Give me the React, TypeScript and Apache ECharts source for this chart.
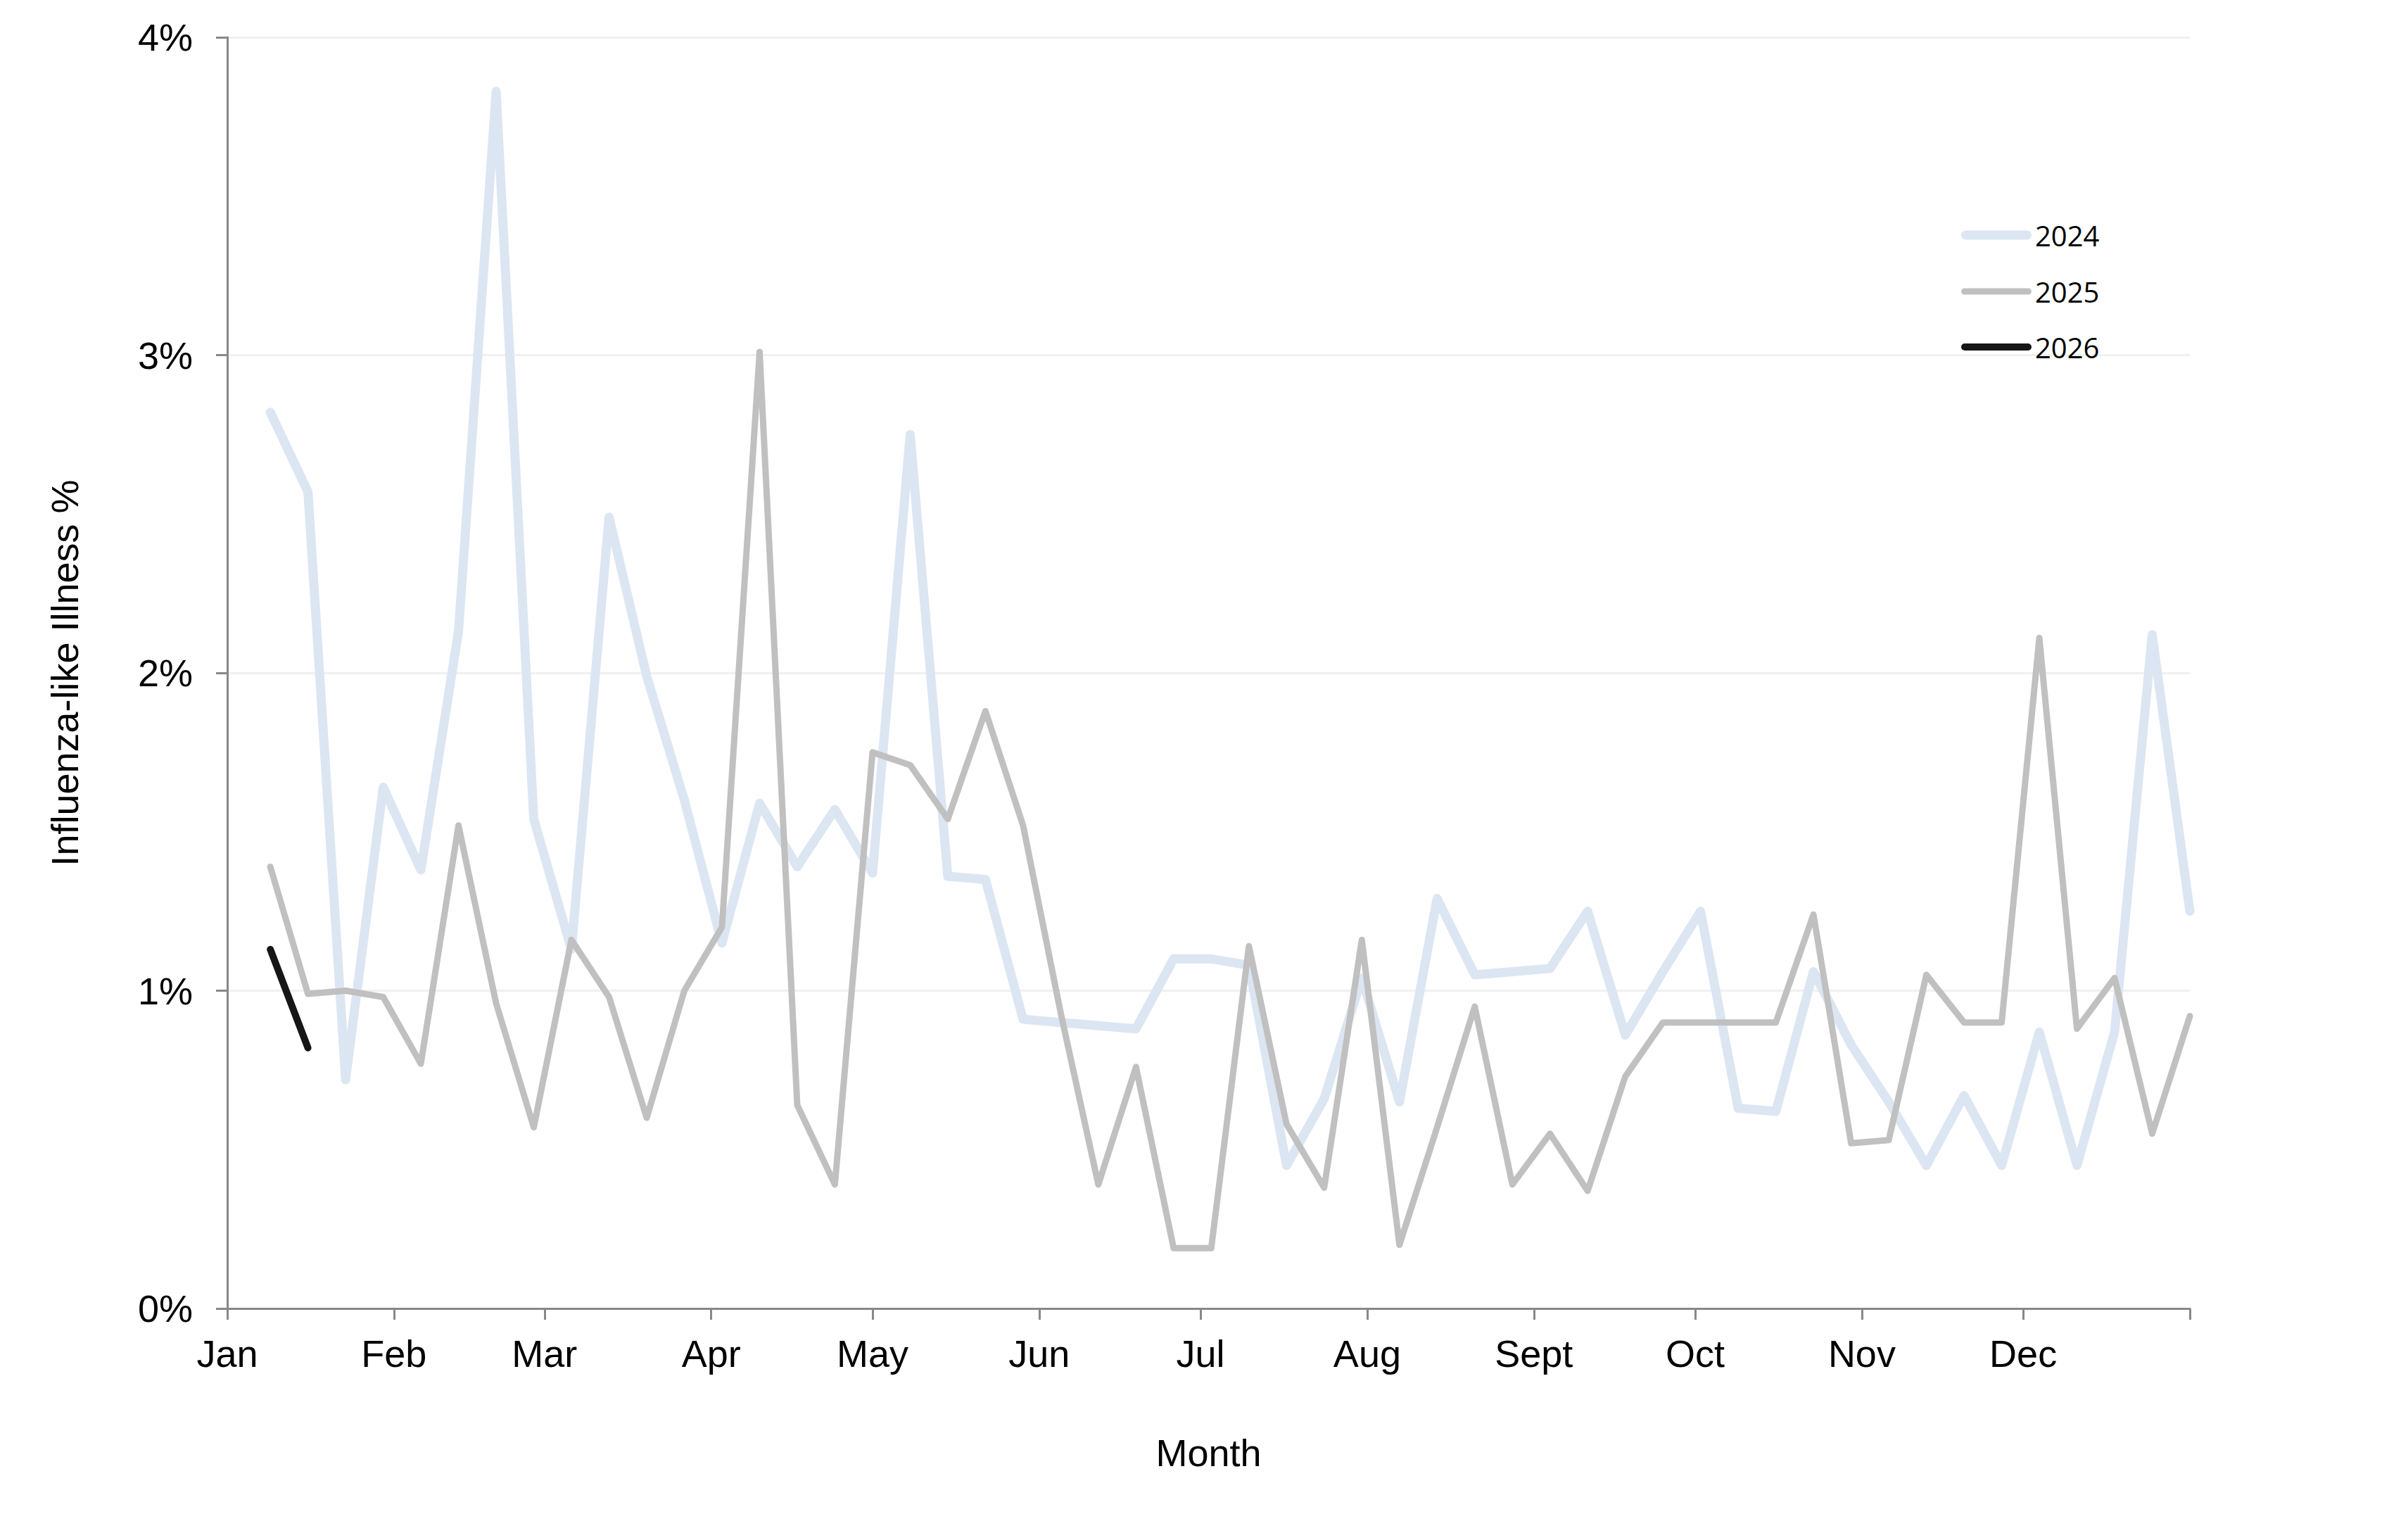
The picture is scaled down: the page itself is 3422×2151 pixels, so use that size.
import React, { useEffect, useRef } from "react";
import * as echarts from "echarts";

// Day of year (Jan 1 = 0) for each weekly point
const weekDays = [
  8, 15, 22, 29, 36, 43, 50, 57, 64, 71, 78, 85, 92, 99, 106, 113, 120, 127, 134, 141,
  148, 155, 162, 169, 176, 183, 190, 197, 204, 211, 218, 225, 232, 239, 246, 253, 260,
  267, 274, 281, 288, 295, 302, 309, 316, 323, 330, 337, 344, 351, 358, 365,
];

const values2024 = [
  2.82, 2.57, 0.72, 1.64, 1.38, 2.13, 3.83, 1.54, 1.13, 2.49, 1.99, 1.6, 1.15, 1.59, 1.39,
  1.57, 1.37, 2.75, 1.36, 1.35, 0.91, 0.9, 0.89, 0.88, 1.1, 1.1, 1.08, 0.45, 0.66, 1.04,
  0.65, 1.29, 1.05, 1.06, 1.07, 1.25, 0.86, 1.06, 1.25, 0.63, 0.62, 1.06, 0.83, 0.65, 0.45,
  0.67, 0.45, 0.87, 0.45, 0.87, 2.12, 1.25,
];

const values2025 = [
  1.39, 0.99, 1.0, 0.98, 0.77, 1.52, 0.96, 0.57, 1.16, 0.98, 0.6, 1.0, 1.2, 3.01, 0.64,
  0.39, 1.75, 1.71, 1.54, 1.88, 1.52, 0.93, 0.39, 0.76, 0.19, 0.19, 1.14, 0.58, 0.38, 1.16,
  0.2, 0.57, 0.95, 0.39, 0.55, 0.37, 0.73, 0.9, 0.9, 0.9, 0.9, 1.24, 0.52, 0.53, 1.05, 0.9,
  0.9, 2.11, 0.88, 1.04, 0.55, 0.92,
];

const values2026 = [1.13, 0.82];

const monthStarts = [0, 31, 59, 90, 120, 151, 181, 212, 243, 273, 304, 334, 365];
const monthLabels = ["Jan", "Feb", "Mar", "Apr", "May", "Jun", "Jul", "Aug", "Sept", "Oct", "Nov", "Dec"];
const yTicks = [0, 1, 2, 3, 4];

const seriesNames = ["2024", "2025", "2026"];
const seriesColors = ["#dce6f2", "#c0c0c0", "#161616"];
const seriesWidths = [13, 9, 10];
const seriesValues = [values2024, values2025, values2026];

const FONT = '"Liberation Sans", Arial, sans-serif';

function stadium(h: number) {
  const r = h / 2;
  const w = 100;
  return `path://M${r},0 L${w - r},0 A${r},${r} 0 0 1 ${w - r},${h} L${r},${h} A${r},${r} 0 0 1 ${r},0 Z`;
}

export default function App() {
  const ref = useRef<HTMLDivElement>(null);

  useEffect(() => {
    if (!ref.current) return;
    const chart = echarts.init(ref.current, undefined, { renderer: "svg" });
    const axisColor = "#888888";

    const legendTops = [309, 389, 468];

    const option: any = {
      animation: false,
      backgroundColor: "#ffffff",
      grid: { left: 323, right: 310, top: 53, bottom: 292, containLabel: false },
      legend: seriesNames.map((n, i) => ({
        data: [n],
        left: 2782,
        top: legendTops[i],
        orient: "vertical",
        selectedMode: false,
        itemWidth: 100,
        itemHeight: seriesWidths[i],
        icon: stadium(seriesWidths[i]),
        textStyle: { fontSize: 40, fontFamily: '"Open Sans", sans-serif', color: "#000" },
      })),
      xAxis: {
        type: "value",
        min: 0,
        max: 365,
        name: "Month",
        nameLocation: "middle",
        nameGap: 178,
        nameTextStyle: { fontSize: 54, fontFamily: FONT, color: "#000" },
        axisLine: { show: true, lineStyle: { color: axisColor, width: 3 } },
        axisTick: {
          show: true,
          customValues: monthStarts,
          length: 16,
          lineStyle: { color: axisColor, width: 3 },
        },
        axisLabel: {
          customValues: monthStarts.slice(0, 12),
          formatter: (v: number) => {
            const idx = monthStarts.indexOf(v);
            return idx >= 0 && idx < 12 ? monthLabels[idx] : "";
          },
          margin: 37,
          fontSize: 54,
          fontFamily: FONT,
          color: "#000",
        },
        splitLine: { show: false },
      },
      yAxis: {
        type: "value",
        min: yTicks[0],
        max: yTicks[yTicks.length - 1],
        interval: 1,
        name: "Influenza-like Illness %",
        nameLocation: "middle",
        nameGap: 204,
        nameRotate: 90,
        nameTextStyle: { fontSize: 54, fontFamily: FONT, color: "#000" },
        axisLine: { show: true, lineStyle: { color: axisColor, width: 3 } },
        axisTick: { show: true, length: 16, lineStyle: { color: axisColor, width: 3 } },
        axisLabel: {
          formatter: "{value}%",
          margin: 49,
          fontSize: 54,
          fontFamily: FONT,
          color: "#000",
        },
        splitLine: { show: true, lineStyle: { color: "#f0f0f0", width: 3 } },
      },
      series: seriesNames.map((n, i) => ({
        name: n,
        type: "line",
        symbol: "none",
        showSymbol: false,
        color: seriesColors[i],
        data: seriesValues[i].map((v, j) => [weekDays[j], v]),
        lineStyle: {
          color: seriesColors[i],
          width: seriesWidths[i],
          cap: "round",
          join: "round",
        },
        z: 2 + i,
      })),
    };

    chart.setOption(option);
    return () => chart.dispose();
  }, []);

  return (
    <div
      ref={ref}
      style={{ position: "fixed", left: 0, top: 0, width: 3422, height: 2151, background: "#fff" }}
    />
  );
}
